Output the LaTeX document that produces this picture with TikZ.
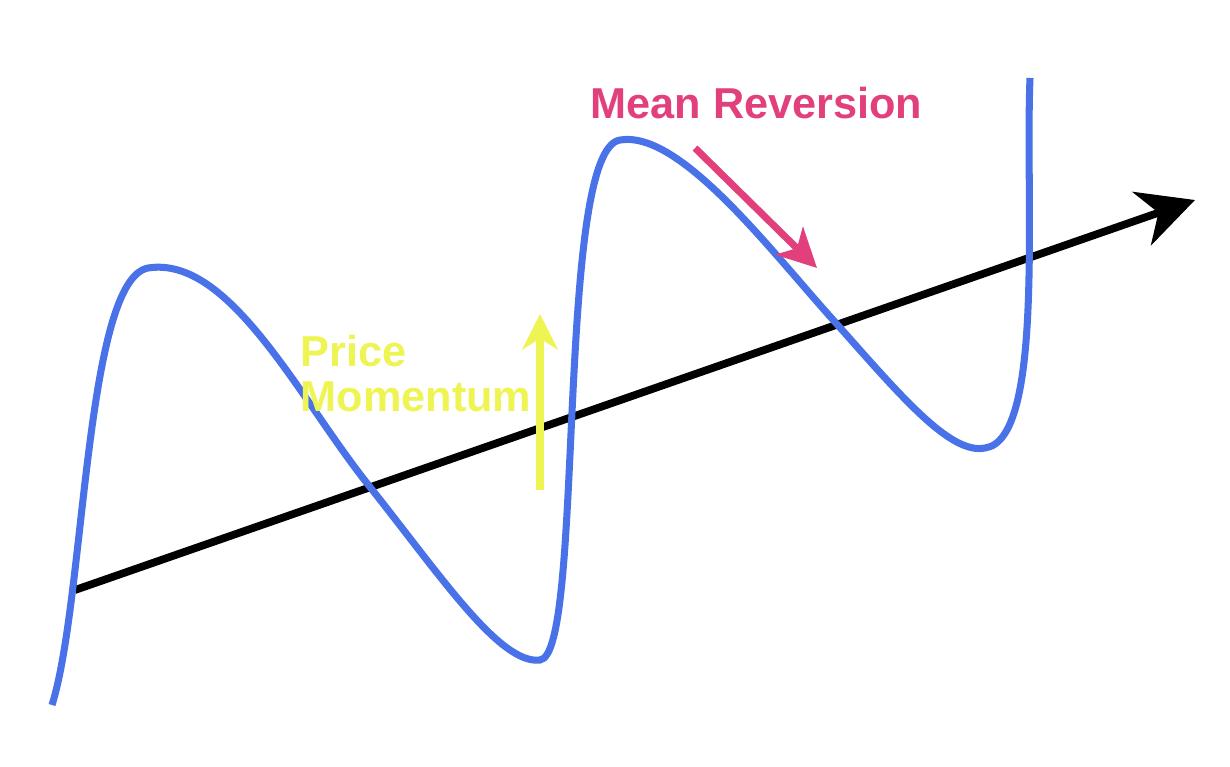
\documentclass[tikz,border=0pt]{standalone}
\usepackage{fontspec}
\setmainfont{Liberation Sans}
\usetikzlibrary{arrows.meta}
\definecolor{curveblue}{HTML}{4A72E8}
\definecolor{momyellow}{HTML}{EEF552}
\definecolor{revpink}{HTML}{E2407C}
\tikzset{
  trend/.style={line width=2.2pt, -{Stealth[length=16pt,width=16pt,inset=5pt]}},
  wave/.style={curveblue, line width=2pt},
  yarrow/.style={momyellow, line width=2pt, -{Stealth[length=10pt,width=10pt,inset=3pt]}},
  parrow/.style={revpink, line width=2pt, -{Stealth[length=11pt,width=11pt,inset=3pt]}},
  lbl/.style={font=\bfseries\fontsize{12.3}{14}\selectfont, align=left, inner sep=0pt}
}
\begin{document}
\begin{tikzpicture}[x=0.01cm,y=-0.01cm]
\useasboundingbox[fill=white] (0,0) rectangle (1230,766);
\coordinate (ts) at (75,590);
\coordinate (te) at (1195,200);
\draw[trend] (ts) -- (te);
\draw[wave] (52,705) .. controls (85,600) and (85,280) .. (148,268)
  .. controls (230,255) and (300,400) .. (370,487)
  .. controls (440,575) and (500,665) .. (540,660)
  .. controls (585,655) and (555,150) .. (620,140)
  .. controls (680,130) and (770,250) .. (835,322)
  .. controls (900,395) and (950,455) .. (985,448)
  .. controls (1045,440) and (1025,200) .. (1030,78);
\coordinate (ys) at (540,490);
\coordinate (ye) at (540,314);
\draw[yarrow] (ys) -- (ye);
\coordinate (ps) at (695,148);
\coordinate (pe) at (817,268);
\draw[parrow] (ps) -- (pe);
\node[lbl, text=momyellow, anchor=north west] (mom) at (300,334) {Price\\[-1pt]Momentum};
\node[lbl, text=revpink, anchor=west] (rev) at (590,103) {Mean Reversion};
\end{tikzpicture}
\end{document}
